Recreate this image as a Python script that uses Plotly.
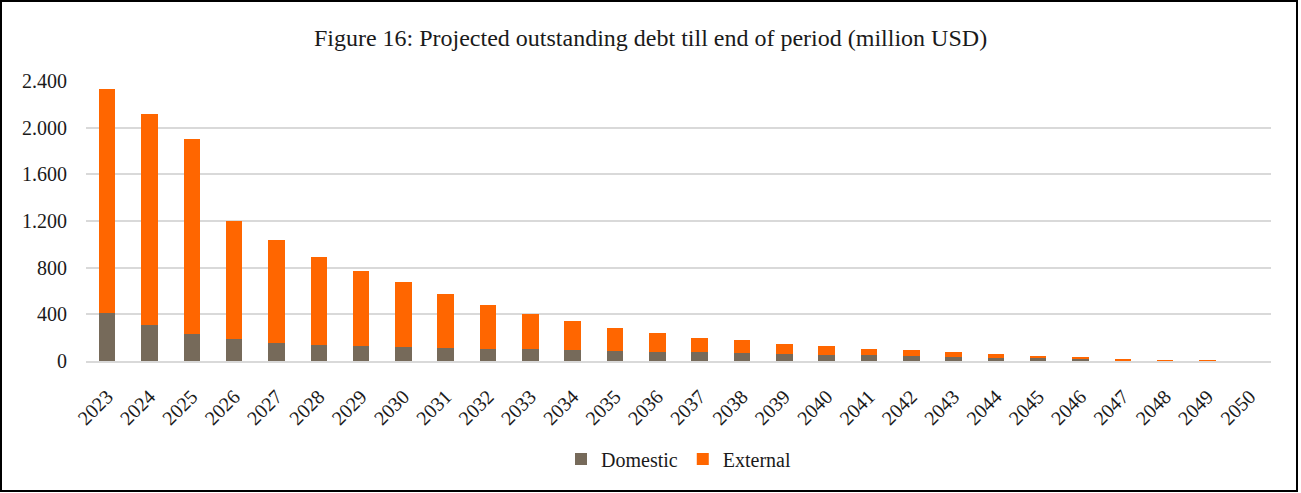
import plotly.graph_objects as go

years = [str(y) for y in range(2023, 2051)]
domestic = [411, 306, 231, 191, 157, 140, 129, 120, 110, 106, 101, 95, 86, 78,
            75, 66, 60, 55, 52, 43, 35, 26, 23, 14, 7, 4, 2, 0]
external = [1920, 1808, 1675, 1006, 880, 751, 645, 557, 467, 372, 305, 250, 199, 161,
            124, 110, 87, 72, 55, 49, 40, 34, 23, 18, 7, 4, 3, 0]
y_ticks = [0, 400, 800, 1200, 1600, 2000, 2400]
y_tick_labels = ["0", "400", "800", "1.200", "1.600", "2.000", "2.400"]
title_text = "Figure 16: Projected outstanding debt till end of period (million USD)"

W, H = 1301, 493
L, R, T, B = 86, 30, 81, 132
pw, ph = W - L - R, H - T - B

def px_x(x):
    return (x - L) / pw

def px_y(y):
    return (H - B - y) / ph

fig = go.Figure()
fig.add_trace(go.Bar(x=years, y=domestic, name="Domestic", marker_color="#766A5A",
                     marker_line_width=0))
fig.add_trace(go.Bar(x=years, y=external, name="External", marker_color="#FF6600",
                     marker_line_width=0))

font = "Liberation Serif, Times New Roman, serif"
fig.update_layout(
    width=W, height=H,
    barmode="stack", bargap=0.61,
    margin=dict(l=L, r=R, t=T, b=B, pad=0),
    paper_bgcolor="white", plot_bgcolor="white",
    font=dict(family=font, size=20, color="#1a1a1a"),
    title=dict(text=title_text, x=0.5, xanchor="center", y=1 - 38 / H, yanchor="middle",
               font=dict(family=font, size=24, color="#1a1a1a")),
    legend=dict(orientation="h", x=0.5, xanchor="center", y=-(459 - (H - B)) / ph,
                yanchor="middle", font=dict(family=font, size=20, color="#1a1a1a"),
                itemwidth=30, traceorder="normal", tracegroupgap=0),
    xaxis=dict(tickangle=-45, showgrid=False, showline=True, linecolor="#d9d9d9",
               linewidth=2, ticks="", ticklabelstandoff=14,
               tickfont=dict(family=font, size=20)),
    yaxis=dict(range=[0, 2400], tickvals=y_ticks, ticktext=y_tick_labels,
               showgrid=True, gridcolor="#d9d9d9", gridwidth=2, zeroline=False,
               showline=False, ticks="", ticklabelstandoff=18,
               tickfont=dict(family=font, size=20)),
    shapes=[dict(type="rect", xref="paper", yref="paper",
                 x0=px_x(1), x1=px_x(1297), y0=px_y(491), y1=px_y(1),
                 line=dict(color="black", width=2), fillcolor="rgba(0,0,0,0)",
                 layer="above")],
)

fig.write_html("out.html", config={"displayModeBar": False},
               post_script="document.body.style.margin='0';document.body.style.overflow='hidden';")
